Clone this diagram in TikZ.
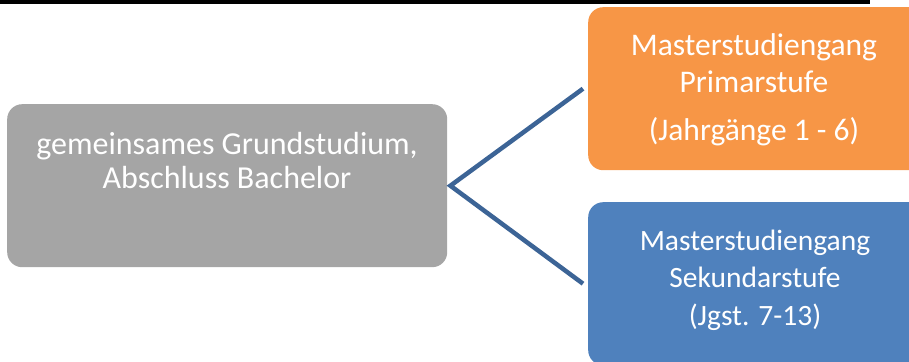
\documentclass[tikz,border=0pt]{standalone}
\usepackage{fontspec}
\setmainfont{Carlito}
\usetikzlibrary{positioning,calc}
\definecolor{grundgray}{RGB}{165,165,165}
\definecolor{primarorange}{RGB}{247,150,70}
\definecolor{sekblue}{RGB}{79,129,189}
\definecolor{linkblue}{RGB}{60,100,150}

\tikzset{
  stagebox/.style={rounded corners=15pt,inner sep=0pt,anchor=north west},
  stagetext/.style={text=white,align=center,inner sep=0pt,anchor=base},
  branch/.style={draw=linkblue,line width=4.5pt}
}

\begin{document}
\begin{tikzpicture}[x=1pt,y=-1pt]
    \useasboundingbox (0,0) rectangle (909,361);
    \clip (0,0) rectangle (909,361);
    % top rule
    \fill[black] (0,0) rectangle (870,4);
    % Boxes
    \node[stagebox,fill=grundgray,minimum width=440pt,minimum height=163pt] (grund) at (7,104) {};
    \node[stagebox,fill=primarorange,minimum width=340pt,minimum height=163pt] (primar) at (588,7) {};
    \node[stagebox,fill=sekblue,minimum width=340pt,minimum height=163pt] (sek) at (588,202) {};
    % Texts (base = last line)
    \node[stagetext,font=\fontsize{32}{34}\selectfont] (grundtxt) at (227,188)
        {gemeinsames Grundstudium,\\Abschluss Bachelor};
    \node[stagetext,font=\fontsize{31.5}{37}\selectfont] (primartxt) at (754,140)
        {Masterstudiengang\\Primarstufe\\[11pt](Jahrgänge 1 - 6)};
    \node[stagetext,font=\fontsize{29.5}{37}\selectfont] (sektxt) at (755,325)
        {Masterstudiengang\\Sekundarstufe\\[1pt](Jgst. 7-13)};
    % Connections
    \coordinate (fork) at ($(grund.east)+(3,0)$);
    \coordinate (topend) at ($(primar.west)+(-5,0)$);
    \coordinate (botend) at ($(sek.west)+(-5,0)$);
    \draw[branch] (topend) -- (fork) -- (botend);
\end{tikzpicture}
\end{document}
